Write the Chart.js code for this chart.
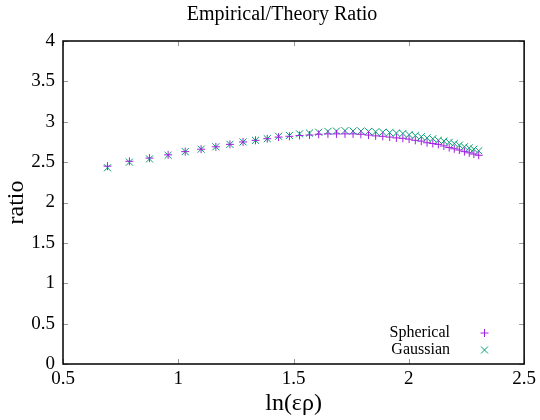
<!DOCTYPE html>
<html>
<head>
<meta charset="utf-8">
<title>Empirical/Theory Ratio</title>
<script src="https://cdn.jsdelivr.net/npm/chart.js@4.4.1/dist/chart.umd.min.js"></script>
<style>
  html, body { margin: 0; padding: 0; background: #fff; }
  #wrap { width: 540px; height: 420px; }
</style>
</head>
<body>
<div id="wrap"><canvas id="ratioChart" width="540" height="420"></canvas></div>
<script>
// ===== Data =====
const xValues = [0.693, 0.788, 0.875, 0.956, 1.030, 1.099, 1.163, 1.224, 1.281, 1.335,
  1.386, 1.435, 1.482, 1.526, 1.569, 1.609, 1.649, 1.686, 1.723, 1.758,
  1.792, 1.825, 1.856, 1.887, 1.917, 1.946, 1.974, 2.001, 2.028, 2.054,
  2.079, 2.104, 2.128, 2.152, 2.175, 2.197, 2.219, 2.241, 2.262, 2.282, 2.303];

const spherical = [2.45, 2.51, 2.55, 2.59, 2.63, 2.66, 2.69, 2.72, 2.75, 2.77,
  2.79, 2.81, 2.82, 2.83, 2.835, 2.845, 2.85, 2.85, 2.85, 2.85,
  2.845, 2.835, 2.825, 2.82, 2.81, 2.80, 2.795, 2.785, 2.77, 2.76,
  2.74, 2.73, 2.72, 2.70, 2.68, 2.665, 2.65, 2.63, 2.615, 2.60, 2.585];

const gaussian = [2.43, 2.50, 2.54, 2.585, 2.63, 2.66, 2.69, 2.72, 2.75, 2.77,
  2.79, 2.82, 2.83, 2.85, 2.86, 2.87, 2.88, 2.885, 2.89, 2.885,
  2.885, 2.88, 2.875, 2.87, 2.865, 2.86, 2.855, 2.84, 2.83, 2.815,
  2.80, 2.79, 2.77, 2.76, 2.745, 2.73, 2.71, 2.69, 2.675, 2.66, 2.64];

const seriesNames = ["Spherical", "Gaussian"];
const xRange = [0.5, 2.5];
const yRange = [0, 4];
const tickStep = 0.5;

const FONT = "'Liberation Serif', 'Times New Roman', serif";

function toPoints(xs, ys) {
  return xs.map(function (x, i) { return { x: x, y: ys[i] }; });
}

// plain numbers like gnuplot: 4, 3.5, 1 ...
function plainLabel(value) {
  return String(Math.round(value * 10) / 10);
}

// gnuplot style frame: full border, inward ticks on all four sides, title, key
const framePlugin = {
  id: "frame",
  afterDraw: function (chart) {
    const ctx = chart.ctx;
    const a = chart.chartArea;
    const xs = chart.scales.x;
    const ys = chart.scales.y;
    const tl = 5;

    ctx.save();
    ctx.strokeStyle = "#9a9a9a";
    ctx.lineWidth = 1;
    ctx.beginPath();
    xs.ticks.forEach(function (t) {
      const px = Math.round(xs.getPixelForValue(t.value)) + 0.5;
      ctx.moveTo(px, a.bottom); ctx.lineTo(px, a.bottom - tl);
      ctx.moveTo(px, a.top); ctx.lineTo(px, a.top + tl);
    });
    ys.ticks.forEach(function (t) {
      const py = Math.round(ys.getPixelForValue(t.value)) + 0.5;
      ctx.moveTo(a.left, py); ctx.lineTo(a.left + tl, py);
      ctx.moveTo(a.right, py); ctx.lineTo(a.right - tl, py);
    });
    ctx.stroke();

    ctx.strokeStyle = "#000";
    ctx.lineWidth = 1.5;
    ctx.strokeRect(a.left, a.top, a.right - a.left, a.bottom - a.top);

    // title
    ctx.fillStyle = "#000";
    ctx.font = "20px " + FONT;
    ctx.textAlign = "center";
    ctx.textBaseline = "middle";
    ctx.fillText("Empirical/Theory Ratio", 282, 15);

    // key, bottom right inside the plot
    ctx.font = "16px " + FONT;
    ctx.textAlign = "right";
    chart.data.datasets.forEach(function (ds, i) {
      const y = 333 + i * 17;
      ctx.fillStyle = "#000";
      ctx.fillText(ds.label, 450, y);
      ctx.strokeStyle = ds.borderColor;
      ctx.lineWidth = 1;
      ctx.beginPath();
      if (ds.pointStyle === "cross") {
        ctx.moveTo(480.5, y); ctx.lineTo(488.5, y);
        ctx.moveTo(484.5, y - 4); ctx.lineTo(484.5, y + 4);
      } else {
        ctx.moveTo(481, y - 3.5); ctx.lineTo(488, y + 3.5);
        ctx.moveTo(481, y + 3.5); ctx.lineTo(488, y - 3.5);
      }
      ctx.stroke();
    });
    ctx.restore();
  }
};

document.addEventListener("DOMContentLoaded", function () {
  const ctx = document.getElementById("ratioChart").getContext("2d");

  new Chart(ctx, {
    type: "scatter",
    data: {
      datasets: [
        {
          label: seriesNames[0],
          data: toPoints(xValues, spherical),
          pointStyle: "cross",
          pointRadius: 4,
          borderColor: "#a020e0",
          backgroundColor: "#a020e0",
          borderWidth: 1
        },
        {
          label: seriesNames[1],
          data: toPoints(xValues, gaussian),
          pointStyle: "crossRot",
          pointRadius: 5,
          borderColor: "#009e73",
          backgroundColor: "#009e73",
          borderWidth: 1
        }
      ]
    },
    options: {
      responsive: false,
      animation: false,
      layout: { padding: { top: 41, right: 14, left: 0, bottom: 0 } },
      plugins: {
        legend: { display: false },
        title: { display: false },
        tooltip: { enabled: false }
      },
      scales: {
        x: {
          type: "linear",
          min: xRange[0],
          max: xRange[1],
          afterFit: function (s) { s.height = 56; },
          ticks: { stepSize: tickStep, padding: 4, color: "#000", font: { family: FONT, size: 19 }, callback: plainLabel },
          grid: { drawOnChartArea: false, drawTicks: false },
          border: { display: false },
          title: {
            display: true,
            text: "ln(ερ)",
            color: "#000",
            font: { family: FONT, size: 24 },
            padding: { top: 0, bottom: 2 }
          }
        },
        y: {
          min: yRange[0],
          max: yRange[1],
          afterFit: function (s) { s.width = 63; },
          ticks: { stepSize: tickStep, padding: 8, color: "#000", font: { family: FONT, size: 19 }, callback: plainLabel },
          grid: { drawOnChartArea: false, drawTicks: false },
          border: { display: false },
          title: {
            display: true,
            text: "ratio",
            color: "#000",
            font: { family: FONT, size: 24 },
            padding: { top: 2, bottom: 0 }
          }
        }
      }
    },
    plugins: [framePlugin]
  });
});
</script>
</body>
</html>
